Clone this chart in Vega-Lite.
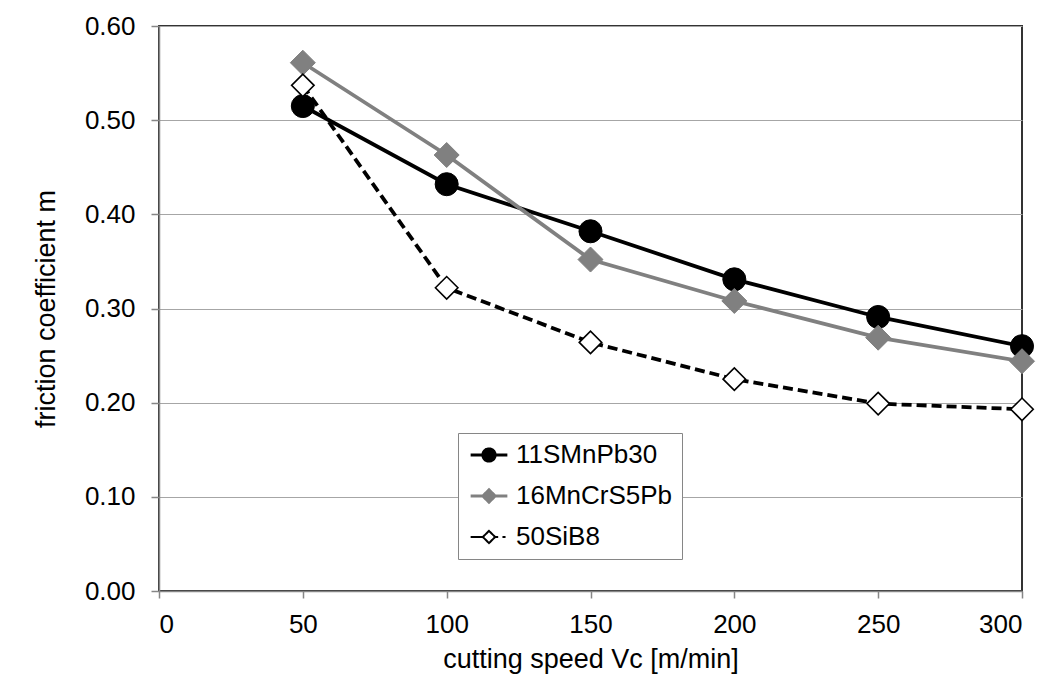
{
  "$schema": "https://vega.github.io/schema/vega-lite/v6.json",
  "width": 863,
  "height": 565,
  "autosize": {"type": "none"},
  "padding": {"left": 159, "top": 26, "right": 26, "bottom": 94},
  "background": "white",
  "config": {
    "font": "Liberation Sans",
    "view": {"stroke": "#333333", "strokeWidth": 2},
    "axis": {
      "labelFont": "Liberation Sans",
      "titleFont": "Liberation Sans",
      "labelFontSize": 26,
      "titleFontSize": 27,
      "labelColor": "black",
      "titleColor": "black",
      "titleFontWeight": "normal",
      "domainColor": "#868686",
      "tickColor": "#868686",
      "gridColor": "#a6a6a6",
      "domainWidth": 1.5,
      "tickWidth": 1.5
    }
  },
  "data": {
    "values": [
      {"series": "11SMnPb30", "speed": 50, "mu": 0.515},
      {"series": "11SMnPb30", "speed": 100, "mu": 0.432},
      {"series": "11SMnPb30", "speed": 150, "mu": 0.382},
      {"series": "11SMnPb30", "speed": 200, "mu": 0.331},
      {"series": "11SMnPb30", "speed": 250, "mu": 0.291},
      {"series": "11SMnPb30", "speed": 300, "mu": 0.260},
      {"series": "16MnCrS5Pb", "speed": 50, "mu": 0.561},
      {"series": "16MnCrS5Pb", "speed": 100, "mu": 0.463},
      {"series": "16MnCrS5Pb", "speed": 150, "mu": 0.352},
      {"series": "16MnCrS5Pb", "speed": 200, "mu": 0.308},
      {"series": "16MnCrS5Pb", "speed": 250, "mu": 0.269},
      {"series": "16MnCrS5Pb", "speed": 300, "mu": 0.244},
      {"series": "50SiB8", "speed": 50, "mu": 0.537},
      {"series": "50SiB8", "speed": 100, "mu": 0.322},
      {"series": "50SiB8", "speed": 150, "mu": 0.264},
      {"series": "50SiB8", "speed": 200, "mu": 0.225},
      {"series": "50SiB8", "speed": 250, "mu": 0.199},
      {"series": "50SiB8", "speed": 300, "mu": 0.193}
    ]
  },
  "encoding": {
    "x": {
      "field": "speed",
      "type": "quantitative",
      "scale": {"domain": [0, 300], "nice": false},
      "axis": {
        "values": [0, 50, 100, 150, 200, 250, 300],
        "title": "cutting speed  Vc [m/min]",
        "grid": false,
        "tickSize": 7,
        "labelPadding": 13,
        "titlePadding": 9
      }
    },
    "y": {
      "field": "mu",
      "type": "quantitative",
      "scale": {"domain": [0, 0.6], "nice": false},
      "axis": {
        "values": [0, 0.1, 0.2, 0.3, 0.4, 0.5, 0.6],
        "format": ".2f",
        "title": "friction coefficient m",
        "grid": true,
        "tickSize": 8,
        "labelPadding": 16,
        "titlePadding": 24
      }
    }
  },
  "layer": [
    {
      "transform": [{"filter": "datum.series !== '50SiB8'"}],
      "mark": {"type": "line", "strokeWidth": 3.8},
      "encoding": {
        "color": {
          "field": "series",
          "type": "nominal",
          "scale": {"domain": ["11SMnPb30", "16MnCrS5Pb", "50SiB8"], "range": ["black", "#808080", "black"]},
          "legend": {
            "orient": "none",
            "legendX": 299,
            "legendY": 407,
            "title": null,
            "labelFontSize": 26,
            "labelFont": "Liberation Sans",
            "labelColor": "black",
            "padding": 9,
            "rowPadding": 15,
            "strokeColor": "#868686",
            "fillColor": "white",
            "symbolSize": 150,
            "symbolOffset": 9,
            "labelOffset": 14,
            "symbolStrokeWidth": 3,
            "encoding": {
              "symbols": {
                "shape": {"value": {"expr": "datum.value === '11SMnPb30' ? 'M-3,0H3M1,0A1,1,0,1,1,-1,0A1,1,0,1,1,1,0Z' : datum.value === '16MnCrS5Pb' ? 'M-3,0H3M0,-1L1,0L0,1L-1,0Z' : 'M-3,0H-1M1,0H1.5M2.2,0H2.7M0,-1L1,0L0,1L-1,0Z'"}},
                "fill": {"value": {"expr": "datum.value === '11SMnPb30' ? 'black' : datum.value === '16MnCrS5Pb' ? '#808080' : 'white'"}},
                "stroke": {"value": {"expr": "datum.value === '16MnCrS5Pb' ? '#808080' : 'black'"}},
                "strokeWidth": {"value": {"expr": "datum.value === '50SiB8' ? 2 : 3"}},
                "strokeDash": {"value": [1, 0]},
                "opacity": {"value": 1}
              }
            }
          }
        }
      }
    },
    {
      "transform": [{"filter": "datum.series === '50SiB8'"}],
      "mark": {"type": "line", "strokeWidth": 3.8, "strokeDash": [10, 5]},
      "encoding": {
        "color": {"field": "series", "type": "nominal"}
      }
    },
    {
      "transform": [{"filter": "datum.series === '11SMnPb30'"}],
      "mark": {"type": "point", "shape": "circle", "filled": true, "fill": "black", "stroke": "black", "strokeWidth": 1, "size": 531, "opacity": 1}
    },
    {
      "transform": [{"filter": "datum.series === '16MnCrS5Pb'"}],
      "mark": {"type": "point", "shape": "diamond", "filled": true, "fill": "#808080", "stroke": "#808080", "strokeWidth": 1, "size": 625, "opacity": 1}
    },
    {
      "transform": [{"filter": "datum.series === '50SiB8'"}],
      "mark": {"type": "point", "shape": "diamond", "filled": true, "fill": "white", "stroke": "black", "strokeWidth": 1.6, "size": 506, "opacity": 1}
    }
  ]
}
